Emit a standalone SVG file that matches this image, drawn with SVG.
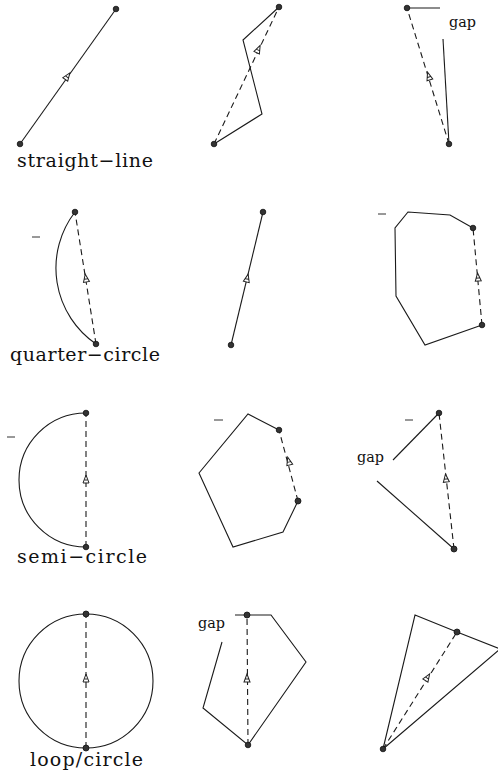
<svg xmlns="http://www.w3.org/2000/svg" xmlns:xlink="http://www.w3.org/1999/xlink" width="498" height="784" viewBox="0 0 498 784">
<style>
.s{fill:none;stroke:#1a1a1a;stroke-width:1.1}
.d{fill:none;stroke:#1a1a1a;stroke-width:1.1;stroke-dasharray:6 4}
.p{fill:#333;stroke:#111;stroke-width:0.8}
.lab{font-family:"DejaVu Serif","Liberation Serif",serif;font-size:19px;fill:#111}
.gap{font-family:"DejaVu Serif","Liberation Serif",serif;font-size:14px;fill:#111}
.tk{stroke:#333;stroke-width:1}
</style>
<defs>
<g id="arr"><path d="M0,-5 L-3,3 L3,3 Z M-1.5,0 L1.5,0" fill="#fff" stroke="#222" stroke-width="1"/></g>
</defs>
<rect width="498" height="784" fill="#fff"/>

<g id="straight-line">
<line class="s" x1="20" y1="144" x2="116" y2="9"/>
<circle class="p" cx="116" cy="9" r="2.8"/>
<circle class="p" cx="20" cy="144" r="2.8"/>
<use href="#arr" transform="translate(67,77) rotate(35.4)"/>
<text class="lab" x="17" y="167" textLength="136" lengthAdjust="spacing">straight−line</text>
</g>

<g id="zigzag">
<path class="s" d="M279,7 L243,40 L262,114 L214,144"/>
<line class="d" x1="214" y1="144" x2="279" y2="7"/>
<circle class="p" cx="279" cy="7" r="2.8"/>
<circle class="p" cx="214" cy="144" r="2.8"/>
<use href="#arr" transform="translate(258,50) rotate(25.4)"/>
</g>

<g id="gap-line">
<path class="s" d="M407,8 L440,8"/>
<path class="s" d="M443,39 L449,144"/>
<line class="d" x1="449" y1="144" x2="407" y2="8"/>
<circle class="p" cx="407" cy="8" r="2.8"/>
<circle class="p" cx="449" cy="144" r="2.8"/>
<use href="#arr" transform="translate(429,77) rotate(-17.2)"/>
<text class="gap" x="449" y="27" textLength="27" lengthAdjust="spacingAndGlyphs">gap</text>
</g>

<g id="quarter-circle">
<line class="tk" x1="32" y1="237" x2="40" y2="237"/>
<path class="s" d="M75,212 A92,92 0 0 0 96,344"/>
<line class="d" x1="96" y1="344" x2="75" y2="212"/>
<circle class="p" cx="75" cy="212" r="2.8"/>
<circle class="p" cx="96" cy="344" r="2.8"/>
<use href="#arr" transform="translate(86,279) rotate(-9)"/>
<text class="lab" x="10" y="361" textLength="150" lengthAdjust="spacing">quarter−circle</text>
</g>

<g id="straight-2">
<line class="s" x1="231" y1="345" x2="263" y2="212"/>
<circle class="p" cx="263" cy="212" r="2.8"/>
<circle class="p" cx="231" cy="345" r="2.8"/>
<use href="#arr" transform="translate(247,279) rotate(13.5)"/>
</g>

<g id="polygon-1">
<line class="tk" x1="378" y1="214" x2="386" y2="214"/>
<path class="s" d="M482,325 L425,345 L396,296 L395,228 L408,212 L450,215 L473,228"/>
<line class="d" x1="482" y1="325" x2="473" y2="228"/>
<circle class="p" cx="473" cy="228" r="2.8"/>
<circle class="p" cx="482" cy="325" r="2.8"/>
<use href="#arr" transform="translate(478,278) rotate(-5.3)"/>
</g>

<g id="semi-circle">
<line class="tk" x1="7" y1="437" x2="15" y2="437"/>
<path class="s" d="M86,413 A67,67 0 0 0 86,547"/>
<line class="d" x1="86" y1="547" x2="86" y2="413"/>
<circle class="p" cx="86" cy="413" r="2.8"/>
<circle class="p" cx="86" cy="547" r="2.8"/>
<use href="#arr" transform="translate(86,480)"/>
<text class="lab" x="17" y="563" textLength="130" lengthAdjust="spacing">semi−circle</text>
</g>

<g id="polygon-2">
<line class="tk" x1="214" y1="420" x2="223" y2="420"/>
<path class="s" d="M279,430 L248,414 L199,473 L233,547 L283,532 L298,501"/>
<line class="d" x1="298" y1="501" x2="279" y2="430"/>
<circle class="p" cx="279" cy="430" r="2.8"/>
<circle class="p" cx="298" cy="501" r="3"/>
<use href="#arr" transform="translate(289,462) rotate(-15)"/>
</g>

<g id="gap-triangle">
<line class="tk" x1="405" y1="420" x2="413" y2="420"/>
<path class="s" d="M439,413 L393,460"/>
<path class="s" d="M377,481 L454,549"/>
<line class="d" x1="454" y1="549" x2="439" y2="413"/>
<circle class="p" cx="439" cy="413" r="2.8"/>
<circle class="p" cx="454" cy="549" r="3"/>
<use href="#arr" transform="translate(446,479) rotate(-6.3)"/>
<text class="gap" x="357" y="462" textLength="27" lengthAdjust="spacingAndGlyphs">gap</text>
</g>

<g id="loop-circle">
<circle class="s" cx="86" cy="681" r="67"/>
<line class="d" x1="86" y1="748" x2="86" y2="614"/>
<circle class="p" cx="86" cy="614" r="3"/>
<circle class="p" cx="86" cy="748" r="3"/>
<use href="#arr" transform="translate(86,679)"/>
<text class="lab" x="30" y="766" textLength="113" lengthAdjust="spacing">loop/circle</text>
</g>

<g id="gap-polygon">
<path class="s" d="M235,615 L271,615 L306,662 L248,745 L203,708 L222,642"/>
<line class="d" x1="248" y1="745" x2="247" y2="615"/>
<circle class="p" cx="247" cy="615" r="3"/>
<circle class="p" cx="248" cy="745" r="2.8"/>
<use href="#arr" transform="translate(247,679) rotate(-0.4)"/>
<text class="gap" x="198" y="628" textLength="27" lengthAdjust="spacingAndGlyphs">gap</text>
</g>

<g id="triangle">
<path class="s" d="M383,749 L415,615 L457,632 L500,649 L383,749"/>
<line class="d" x1="383" y1="749" x2="457" y2="632"/>
<circle class="p" cx="457" cy="632" r="3"/>
<circle class="p" cx="383" cy="749" r="2.8"/>
<use href="#arr" transform="translate(427,678) rotate(32.3)"/>
</g>
</svg>
